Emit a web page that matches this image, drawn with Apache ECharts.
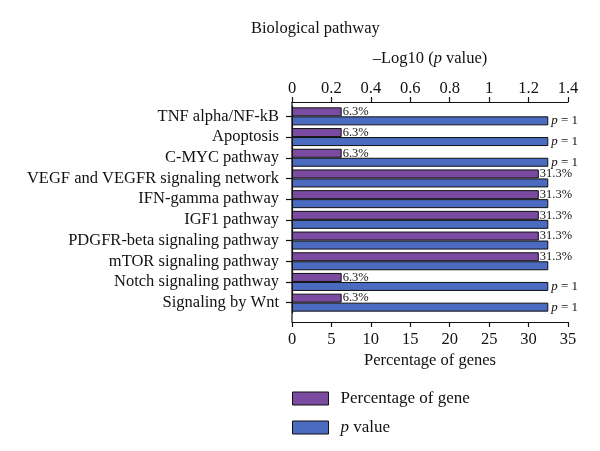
<!DOCTYPE html>
<html>
<head>
<meta charset="utf-8">
<script src="https://cdn.jsdelivr.net/npm/echarts@6/dist/echarts.min.js"></script>
<style>
  html, body { margin: 0; padding: 0; background: #fff; }
  #chart { width: 600px; height: 451px; }
</style>
</head>
<body>
<div id="chart"></div>
<script>
// pathways, top to bottom
const pathways = [
  'TNF alpha/NF-kB',
  'Apoptosis',
  'C-MYC pathway',
  'VEGF and VEGFR signaling network',
  'IFN-gamma pathway',
  'IGF1 pathway',
  'PDGFR-beta signaling pathway',
  'mTOR signaling pathway',
  'Notch signaling pathway',
  'Signaling by Wnt'
]
const geneShare = [6.3, 6.3, 6.3, 31.3, 31.3, 31.3, 31.3, 31.3, 6.3, 6.3]
const logP = [1.3, 1.3, 1.3, 1.3, 1.3, 1.3, 1.3, 1.3, 1.3, 1.3]
const pLabels = ['p = 1', 'p = 1', 'p = 1', '', '', '', '', '', 'p = 1', 'p = 1']
const pctTicks = [0, 5, 10, 15, 20, 25, 30, 35]
const logTicks = [0, 0.2, 0.4, 0.6, 0.8, 1, 1.2, 1.4]

const FONT = 'Liberation Serif'
const INK = '#111'
const PURPLE = '#7a4ba0'
const BLUE = '#4a6bc0'

const axisLine = { show: true, lineStyle: { color: INK, width: 1.2 } }
const axisTick = { show: true, length: 5, lineStyle: { color: INK, width: 1.2 } }
const italic = { i: { fontFamily: FONT, fontSize: 16.5, fontStyle: 'italic', color: INK } }

const chart = echarts.init(document.getElementById('chart'))

chart.setOption({
  animation: false,
  textStyle: { fontFamily: FONT, color: INK },
  title: {
    text: 'Biological pathway',
    left: 251,
    top: 20,
    padding: 0,
    textStyle: { fontFamily: FONT, fontSize: 16.5, fontWeight: 'normal', color: INK }
  },
  grid: {
    left: 292,
    right: 32,
    top: 106,
    height: 207
  },
  legend: {
    orient: 'vertical',
    left: 292,
    top: 390,
    padding: 0,
    itemWidth: 36,
    itemHeight: 13,
    itemGap: 12,
    icon: 'rect',
    itemStyle: { borderColor: INK, borderWidth: 1 },
    textStyle: {
      fontFamily: FONT,
      fontSize: 17,
      color: INK,
      padding: [0, 0, 0, 7],
      rich: { i: { fontFamily: FONT, fontSize: 17, fontStyle: 'italic', color: INK } }
    },
    formatter: name => (name === 'p value' ? '{i|p} value' : name),
    data: ['Percentage of gene', 'p value']
  },
  xAxis: [
    {
      type: 'value',
      position: 'bottom',
      offset: 9,
      min: pctTicks[0],
      max: pctTicks[pctTicks.length - 1],
      interval: 5,
      name: 'Percentage of genes',
      nameLocation: 'middle',
      nameGap: 30,
      nameTextStyle: { fontFamily: FONT, fontSize: 16.5, color: INK },
      axisLine,
      axisTick,
      axisLabel: { fontFamily: FONT, fontSize: 16.5, color: INK, margin: 9 },
      splitLine: { show: false }
    },
    {
      type: 'value',
      position: 'top',
      offset: 4,
      min: logTicks[0],
      max: logTicks[logTicks.length - 1],
      interval: 0.2,
      name: '–Log10 ({i|p} value)',
      nameLocation: 'middle',
      nameGap: 35,
      nameTextStyle: { fontFamily: FONT, fontSize: 16.5, color: INK, rich: italic },
      axisLine,
      axisTick,
      axisLabel: { fontFamily: FONT, fontSize: 16.5, color: INK, margin: 5 },
      splitLine: { show: false }
    }
  ],
  yAxis: {
    type: 'category',
    inverse: true,
    data: pathways,
    axisLine,
    axisTick: { show: true, interval: 0, alignWithLabel: true, length: 6, lineStyle: { color: INK, width: 1.2 } },
    axisLabel: { fontFamily: FONT, fontSize: 16.5, color: INK, margin: 13, interval: 0 }
  },
  graphic: [
    {
      // the left axis line runs past the bars down to the bottom axis
      type: 'line',
      shape: { x1: 292, y1: 102, x2: 292, y2: 322 },
      style: { stroke: INK, lineWidth: 1.2 },
      silent: true
    }
  ],
  series: [
    {
      name: 'Percentage of gene',
      type: 'bar',
      xAxisIndex: 0,
      barWidth: 9,
      barGap: '0%',
      data: geneShare,
      itemStyle: { color: PURPLE, borderColor: INK, borderWidth: 1 },
      label: {
        show: true,
        position: 'right',
        distance: 1,
        fontFamily: FONT,
        fontSize: 12.5,
        color: INK,
        formatter: p => p.value + '%'
      }
    },
    {
      name: 'p value',
      type: 'bar',
      xAxisIndex: 1,
      barWidth: 9,
      data: logP,
      itemStyle: { color: BLUE, borderColor: INK, borderWidth: 1 },
      label: {
        show: true,
        position: 'right',
        distance: 3,
        fontFamily: FONT,
        fontSize: 13,
        color: INK,
        formatter: p => (pLabels[p.dataIndex] ? pLabels[p.dataIndex].replace('p', '{i|p}') : ''),
        rich: { i: { fontFamily: FONT, fontSize: 13, fontStyle: 'italic', color: INK } }
      }
    }
  ]
})
</script>
</body>
</html>
